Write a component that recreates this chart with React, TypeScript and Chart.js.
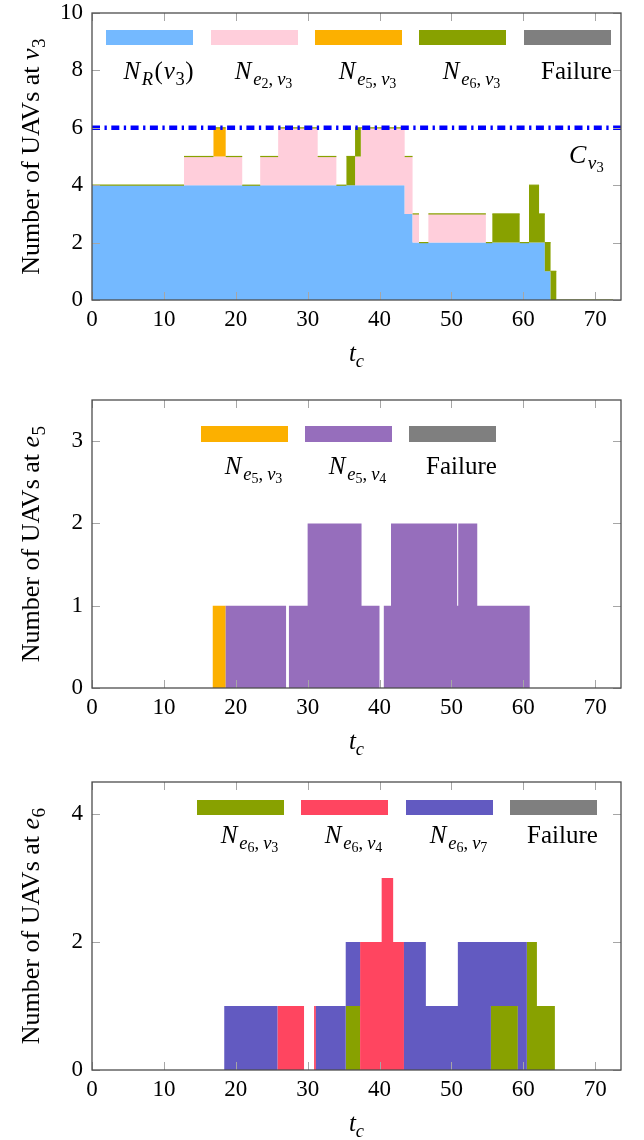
import React, { useEffect, useRef } from 'react';
import { Chart, registerables } from 'chart.js';

Chart.register(...registerables);

const FONT = '"Liberation Serif", "DejaVu Serif", "Times New Roman", serif';

// ---------------- shared axis data ----------------
const X_TICKS = [0, 10, 20, 30, 40, 50, 60, 70];
const X_MIN = 0;
const X_MAX = 73.6;

// ---------------- Panel 1: UAVs at v3 ----------------
// breakpoints (t_c); segment i runs from T[i] to T[i+1]
const T_V3 = [0, 12.8, 16.9, 18.6, 20.9, 23.4, 25.9, 31.4, 34.0, 35.4, 36.6, 37.4, 43.5, 44.6, 45.5, 46.8, 54.8, 55.7, 59.5, 60.8, 62.2, 63.0, 63.8, 64.6, 72.5];
const NR_V3 = [4, 4, 4, 4, 4, 4, 4, 4, 4, 4, 4, 4, 3, 2, 2, 2, 2, 2, 2, 2, 2, 1, 0, 0];
const NE2_V3 = [0, 1, 1, 1, 0, 1, 2, 1, 0, 0, 1, 2, 2, 1, 0, 1, 0, 0, 0, 0, 0, 0, 0, 0];
const NE5_V3 = [0, 0, 1, 0, 0, 0, 0, 0, 0, 0, 0, 0, 0, 0, 0, 0, 0, 0, 0, 0, 0, 0, 0, 0];
const NE6_V3 = [0, 0, 0, 0, 0, 0, 0, 0, 0, 1, 1, 0, 0, 0, 0, 0, 0, 1, 0, 2, 1, 1, 1, 0];
const FAIL_V3 = [0, 0, 0, 0, 0, 0, 0, 0, 0, 0, 0, 0, 0, 0, 0, 0, 0, 0, 0, 0, 0, 0, 0, 0];
const CAP_V3 = 6;
const Y_TICKS_V3 = [0, 2, 4, 6, 8, 10];
const Y_MAX_V3 = 10;

// ---------------- Panel 2: UAVs at e5 ----------------
const T_E5 = [0, 16.8, 18.6, 27.0, 27.4, 30.0, 37.5, 40.0, 40.6, 41.6, 50.8, 50.95, 53.6, 60.9, 72.5];
const NE5V3_E5 = [0, 1, 0, 0, 0, 0, 0, 0, 0, 0, 0, 0, 0, 0];
const NE5V4_E5 = [0, 0, 1, 0, 1, 2, 1, 0, 1, 2, 1, 2, 1, 0];
const FAIL_E5 = [0, 0, 0, 0, 0, 0, 0, 0, 0, 0, 0, 0, 0, 0];
const Y_TICKS_E5 = [0, 1, 2, 3];
const Y_MAX_E5 = 3.5;

// ---------------- Panel 3: UAVs at e6 ----------------
const T_E6 = [0, 18.4, 25.8, 29.5, 30.9, 31.15, 35.3, 37.3, 40.3, 41.9, 43.4, 46.45, 50.9, 55.5, 59.25, 60.5, 61.9, 64.4, 72.5];
const NE6V3_E6 = [0, 0, 0, 0, 0, 0, 1, 0, 0, 0, 0, 0, 0, 1, 0, 2, 1, 0];
const NE6V4_E6 = [0, 0, 1, 0, 1, 0, 0, 2, 3, 2, 0, 0, 0, 0, 0, 0, 0, 0];
const NE6V7_E6 = [0, 1, 0, 0, 0, 1, 1, 0, 0, 0, 2, 1, 2, 1, 2, 0, 0, 0];
const FAIL_E6 = [0, 0, 0, 0, 0, 0, 0, 0, 0, 0, 0, 0, 0, 0, 0, 0, 0, 0];
const Y_TICKS_E6 = [0, 2, 4];
const Y_MAX_E6 = 4.5;

// ---------------- colours ----------------
const C_BLUE = '#74B9FF';
const C_PINK = '#FFCEDB';
const C_ORANGE = '#FCB000';
const C_OLIVE = '#88A100';
const C_GRAY = '#7F7F7F';
const C_PURPLE = '#966EBC';
const C_RED = '#FF4560';
const C_INDIGO = '#625AC1';
const C_CAP = '#0000FF';

// ---------------- math-ish text runs ----------------
type Run = [string, number, boolean, number?]; // text, level, italic, extra gap
const LV_SCALE = [1, 0.74, 0.56];
const LV_SHIFT = [0, 0.22, 0.36];

function fontOf(size: number, it: boolean) {
  return `${it ? 'italic ' : ''}${size}px ${FONT}`;
}
function runsWidth(ctx: CanvasRenderingContext2D, runs: Run[], base: number) {
  let w = 0;
  for (const [t, lv, it, gap] of runs) {
    ctx.font = fontOf(base * LV_SCALE[lv], it);
    w += ctx.measureText(t).width + (gap || 0);
  }
  return w;
}
function drawRuns(ctx: CanvasRenderingContext2D, runs: Run[], x: number, y: number, base: number, center: boolean) {
  let cx = center ? x - runsWidth(ctx, runs, base) / 2 : x;
  ctx.textAlign = 'left';
  ctx.textBaseline = 'alphabetic';
  ctx.fillStyle = '#000';
  for (const [t, lv, it, gap] of runs) {
    ctx.font = fontOf(base * LV_SCALE[lv], it);
    ctx.fillText(t, cx, y + base * LV_SHIFT[lv]);
    cx += ctx.measureText(t).width + (gap || 0);
  }
}

const nSub = (a: string, b: string, c: string, d: string): Run[] => [
  ['N', 0, true, 2],
  [a, 1, true],
  [b, 2, false],
  [',', 1, false, 4],
  [c, 1, true],
  [d, 2, false],
];
const L_NR: Run[] = [['N', 0, true, 1.5], ['R', 1, true, 1.5], ['(', 0, false, 1], ['v', 0, true, 0.5], ['3', 1, false, 0.5], [')', 0, false]];
const L_FAIL: Run[] = [['Failure', 0, false]];
const L_TC: Run[] = [['t', 0, true], ['c', 1, true]];
const L_CAP: Run[] = [['C', 0, true, 1.5], ['v', 1, true], ['3', 2, false]];
const yTitle = (v: string, n: string): Run[] => [['Number of UAVs at ', 0, false], [v, 0, true, 0.5], [n, 1, false]];

// ---------------- layout (page px) ----------------
const PAGE_W = 644;
const PLOT_LEFT = 92;
const PLOT_RIGHT = 621;

type Series = { label: Run[]; values: number[]; color: string; topLine?: boolean };
type Spec = {
  canvasTop: number;
  canvasH: number;
  plotTop: number;
  plotBottom: number;
  yMax: number;
  yTicks: number[];
  T: number[];
  series: Series[];
  title: Run[];
  legendX: number[];
  legendY: number;
  legendH: number;
  legendBase: number;
  cap?: number;
};

function stepPoints(T: number[], vals: number[]) {
  const pts: { x: number; y: number }[] = [];
  for (let i = 0; i < vals.length; i++) {
    pts.push({ x: T[i], y: vals[i] });
    pts.push({ x: T[i + 1], y: vals[i] });
  }
  return pts;
}

function buildChart(canvas: HTMLCanvasElement, spec: Spec) {
  const off = spec.canvasTop;
  const plotTop = spec.plotTop - off;
  const plotBottom = spec.plotBottom - off;

  // cumulative stacking of the series
  const cum: number[][] = [];
  spec.series.forEach((s, k) => {
    cum.push(s.values.map((v, i) => v + (k > 0 ? cum[k - 1][i] : 0)));
  });
  const n = spec.series.length;

  const datasets: any[] = spec.series.map((s, k) => ({
    type: 'line',
    label: s.label.map((r) => r[0]).join(''),
    data: stepPoints(spec.T, cum[k]),
    backgroundColor: s.color,
    borderColor: 'rgba(0,0,0,0)',
    borderWidth: 0,
    fill: k === 0 ? 'origin' : '-1',
    pointRadius: 0,
    tension: 0,
    order: n + 5 - k,
  }));
  // thin horizontal outline on top of the stacked series that carries it
  spec.series.forEach((s, k) => {
    if (!s.topLine) return;
    datasets.push({
      type: 'line',
      label: 'edge',
      data: stepPoints(spec.T, cum[k]),
      borderColor: s.color,
      borderWidth: 1.2,
      fill: false,
      pointRadius: 0,
      tension: 0,
      order: 1,
      segment: {
        borderColor: (c: any) => (c.p0.parsed.x === c.p1.parsed.x ? 'rgba(0,0,0,0)' : undefined),
      },
    });
  });
  if (spec.cap !== undefined) {
    datasets.push({
      type: 'line',
      label: 'C',
      data: [
        { x: X_MIN, y: spec.cap },
        { x: X_MAX, y: spec.cap },
      ],
      borderColor: C_CAP,
      borderWidth: 4.5,
      borderDash: [8, 4.5, 2.3, 4.5],
      fill: false,
      pointRadius: 0,
      order: 0,
    });
  }

  const overlay = {
    id: 'overlay' + off,
    afterDatasetsDraw(chart: any) {
      const { ctx, chartArea: a, scales } = chart;
      const xs = scales.x;
      const ys = scales.y;
      ctx.save();
      // inward ticks
      ctx.strokeStyle = '#A6A6A6';
      ctx.lineWidth = 1;
      const TL = 8;
      ctx.beginPath();
      for (const v of X_TICKS) {
        const px = Math.round(xs.getPixelForValue(v)) + 0.5;
        ctx.moveTo(px, a.bottom);
        ctx.lineTo(px, a.bottom - TL);
        ctx.moveTo(px, a.top);
        ctx.lineTo(px, a.top + TL);
      }
      for (const v of spec.yTicks) {
        const py = Math.round(ys.getPixelForValue(v)) + 0.5;
        ctx.moveTo(a.left, py);
        ctx.lineTo(a.left + TL, py);
        ctx.moveTo(a.right, py);
        ctx.lineTo(a.right - TL, py);
      }
      ctx.stroke();
      // frame
      ctx.strokeStyle = '#4D4D4D';
      ctx.lineWidth = 1.3;
      ctx.strokeRect(a.left, a.top, a.right - a.left, a.bottom - a.top);
      ctx.restore();
    },
    afterDraw(chart: any) {
      const { ctx, chartArea: a } = chart;
      ctx.save();
      // legend
      spec.series.forEach((s, k) => {
        const lx = spec.legendX[k];
        const ly = spec.legendY - off;
        ctx.fillStyle = s.color;
        ctx.fillRect(lx, ly, 87, spec.legendH);
        drawRuns(ctx, s.label, lx + 43.5 + 9, spec.legendBase - off, 25, true);
      });
      // x title
      drawRuns(ctx, L_TC, (a.left + a.right) / 2, a.bottom + 61, 25, true);
      // y title
      ctx.save();
      ctx.translate(39, (a.top + a.bottom) / 2);
      ctx.rotate(-Math.PI / 2);
      drawRuns(ctx, spec.title, 0, 0, 26, true);
      ctx.restore();
      // capacity annotation
      if (spec.cap !== undefined) {
        drawRuns(ctx, L_CAP, 569, 163 - off, 26, false);
      }
      ctx.restore();
    },
  };

  return new Chart(canvas, {
    type: 'line',
    data: { datasets },
    options: {
      responsive: false,
      animation: false,
      devicePixelRatio: 1,
      layout: { padding: { left: 0, right: PAGE_W - PLOT_RIGHT, top: plotTop, bottom: 0 } },
      plugins: { legend: { display: false }, tooltip: { enabled: false } },
      scales: {
        x: {
          type: 'linear',
          min: X_MIN,
          max: X_MAX,
          grid: { display: false, drawTicks: false },
          border: { display: false },
          ticks: { font: { family: FONT, size: 23 }, color: '#000', padding: 6, maxRotation: 0, autoSkip: false },
          afterBuildTicks: (s: any) => {
            s.ticks = X_TICKS.map((v) => ({ value: v }));
          },
          afterFit: (s: any) => {
            s.height = spec.canvasH - plotBottom;
            s.paddingLeft = 0;
            s.paddingRight = 0;
          },
        },
        y: {
          type: 'linear',
          min: 0,
          max: spec.yMax,
          grid: { display: false, drawTicks: false },
          border: { display: false },
          ticks: { font: { family: FONT, size: 23 }, color: '#000', padding: 9, autoSkip: false },
          afterBuildTicks: (s: any) => {
            s.ticks = spec.yTicks.map((v) => ({ value: v }));
          },
          afterFit: (s: any) => {
            s.width = PLOT_LEFT;
            s.paddingTop = 0;
            s.paddingBottom = 0;
          },
        },
      },
    },
    plugins: [overlay],
  } as any);
}

const SPECS: Spec[] = [
  {
    canvasTop: 0,
    canvasH: 372,
    plotTop: 13,
    plotBottom: 300,
    yMax: Y_MAX_V3,
    yTicks: Y_TICKS_V3,
    T: T_V3,
    series: [
      { label: L_NR, values: NR_V3, color: C_BLUE },
      { label: nSub('e', '2', 'v', '3'), values: NE2_V3, color: C_PINK },
      { label: nSub('e', '5', 'v', '3'), values: NE5_V3, color: C_ORANGE },
      { label: nSub('e', '6', 'v', '3'), values: NE6_V3, color: C_OLIVE, topLine: true },
      { label: L_FAIL, values: FAIL_V3, color: C_GRAY },
    ],
    title: yTitle('v', '3'),
    legendX: [106, 211, 315, 419, 524],
    legendY: 30,
    legendH: 15,
    legendBase: 79,
    cap: CAP_V3,
  },
  {
    canvasTop: 380,
    canvasH: 385,
    plotTop: 400,
    plotBottom: 688,
    yMax: Y_MAX_E5,
    yTicks: Y_TICKS_E5,
    T: T_E5,
    series: [
      { label: nSub('e', '5', 'v', '3'), values: NE5V3_E5, color: C_ORANGE },
      { label: nSub('e', '5', 'v', '4'), values: NE5V4_E5, color: C_PURPLE },
      { label: L_FAIL, values: FAIL_E5, color: C_GRAY },
    ],
    title: yTitle('e', '5'),
    legendX: [201, 305, 409],
    legendY: 426,
    legendH: 16,
    legendBase: 474,
  },
  {
    canvasTop: 762,
    canvasH: 378,
    plotTop: 782,
    plotBottom: 1070,
    yMax: Y_MAX_E6,
    yTicks: Y_TICKS_E6,
    T: T_E6,
    series: [
      { label: nSub('e', '6', 'v', '3'), values: NE6V3_E6, color: C_OLIVE },
      { label: nSub('e', '6', 'v', '4'), values: NE6V4_E6, color: C_RED },
      { label: nSub('e', '6', 'v', '7'), values: NE6V7_E6, color: C_INDIGO },
      { label: L_FAIL, values: FAIL_E6, color: C_GRAY },
    ],
    title: yTitle('e', '6'),
    legendX: [197, 301, 406, 510],
    legendY: 800,
    legendH: 15,
    legendBase: 843,
  },
];

function Panel({ spec }: { spec: Spec }) {
  const ref = useRef<HTMLCanvasElement>(null);
  useEffect(() => {
    const chart = buildChart(ref.current as HTMLCanvasElement, spec);
    return () => chart.destroy();
  }, [spec]);
  return (
    <canvas
      ref={ref}
      width={PAGE_W}
      height={spec.canvasH}
      style={{ position: 'absolute', left: 0, top: spec.canvasTop, width: PAGE_W, height: spec.canvasH }}
    />
  );
}

export default function App() {
  return (
    <div style={{ position: 'absolute', left: 0, top: 0, width: PAGE_W, height: 1140, background: '#fff' }}>
      {SPECS.map((s, i) => (
        <Panel key={i} spec={s} />
      ))}
    </div>
  );
}
